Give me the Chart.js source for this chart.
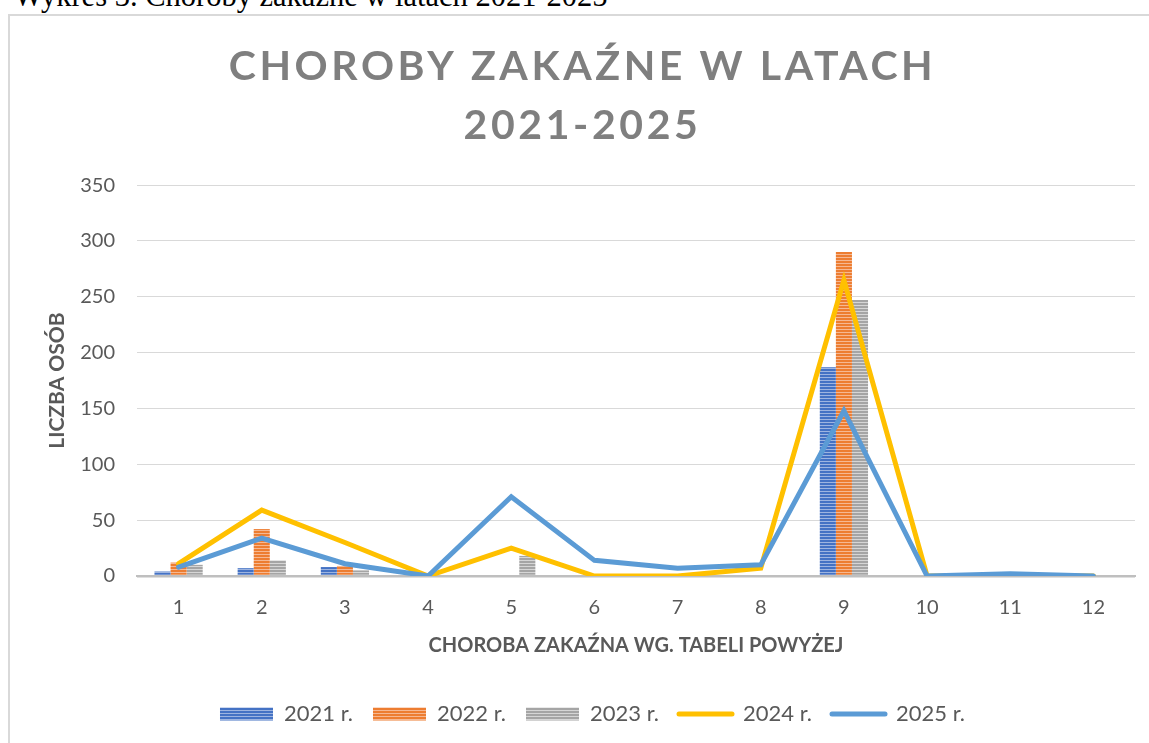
<!DOCTYPE html>
<html>
<head>
<meta charset="utf-8">
<script src="https://cdn.jsdelivr.net/npm/chart.js@4.4.1/dist/chart.umd.min.js"></script>
<style>
  html, body { margin: 0; padding: 0; background: #fff; overflow: hidden; }
  #caption {
    position: absolute; left: 14px; top: -19.5px;
    font-family: "Liberation Serif", "Times New Roman", serif;
    font-size: 30.5px; line-height: 30.5px; color: #000; white-space: nowrap;
  }
  #ramka {
    position: absolute; left: 8px; top: 14px; width: 1200px; height: 800px;
    border: 2px solid #d9d9d9;
  }
  #wrap { position: absolute; left: 0; top: 0; width: 1149px; height: 743px; }
</style>
</head>
<body>
<div id="caption">Wykres 3. Choroby zakaźne w latach 2021-2025</div>
<div id="ramka"></div>
<div id="wrap"><canvas id="wykres"></canvas></div>
<script>
// kategorie na osi X (numer choroby z tabeli)
const kategorie = ['1', '2', '3', '4', '5', '6', '7', '8', '9', '10', '11', '12'];

// wartości
const dane2021 = [4, 7, 8, 0, 0, 0, 0, 0, 187, 0, 0, 0];
const dane2022 = [12, 42, 9, 0, 0, 0, 0, 0, 290, 0, 0, 0];
const dane2023 = [10, 14, 5, 0, 18, 0, 0, 0, 247, 0, 0, 0];
const dane2024 = [11, 59, 30, 0, 25, 0, 0, 7, 265, 0, 0, 0];
const dane2025 = [8, 34, 11, 0, 71, 14, 7, 10, 148, 0, 2, 0];

const etykietySerii = ['2021 r.', '2022 r.', '2023 r.', '2024 r.', '2025 r.'];
const tytul = ['CHOROBY ZAKAŹNE W LATACH', '2021-2025'];

// paski poziome jak w Excelu
function paski(kolor, jasny) {
    const c = document.createElement('canvas');
    c.width = 4;
    c.height = 3;
    const g = c.getContext('2d');
    g.fillStyle = kolor;
    g.fillRect(0, 0, 4, 3);
    g.fillStyle = jasny;
    g.fillRect(0, 2, 4, 1);
    return g.createPattern(c, 'repeat');
}

const wzorNiebieski = paski('#4472c4', '#9db4e0');
const wzorPomarancz = paski('#ed7d31', '#f6b892');
const wzorSzary = paski('#a5a5a5', '#d6d6d6');

// tytuł z rozstrzelonymi literami
const rozstrzelTytul = {
    id: 'rozstrzelTytul',
    beforeDraw(chart) {
        const t = chart.titleBlock;
        if (t && !t._rozstrzelony) {
            const oryg = t.draw.bind(t);
            t.draw = function () {
                chart.ctx.save();
                chart.ctx.letterSpacing = '3.6px';
                oryg();
                chart.ctx.restore();
            };
            t._rozstrzelony = true;
        }
    }
};

// legenda troche w prawo, jak w oryginale
const przesunLegende = {
    id: 'przesunLegende',
    afterLayout(chart) {
        if (chart.legend) {
            chart.legend.left += 10;
            chart.legend.right += 10;
        }
    }
};

Chart.defaults.font.family = 'Lato';
Chart.defaults.color = '#595959';

new Chart(document.getElementById('wykres'), {
    data: {
        labels: kategorie,
        datasets: [
            { type: 'bar', label: etykietySerii[0], data: dane2021, backgroundColor: wzorNiebieski, order: 3 },
            { type: 'bar', label: etykietySerii[1], data: dane2022, backgroundColor: wzorPomarancz, order: 3 },
            { type: 'bar', label: etykietySerii[2], data: dane2023, backgroundColor: wzorSzary, order: 3 },
            { type: 'line', label: etykietySerii[3], data: dane2024, borderColor: '#ffc000', borderWidth: 5,
              pointRadius: 0, tension: 0, borderCapStyle: 'round', order: 2 },
            { type: 'line', label: etykietySerii[4], data: dane2025, borderColor: '#5b9bd5', borderWidth: 5,
              pointRadius: 0, tension: 0, borderCapStyle: 'round', order: 1 }
        ]
    },
    options: {
        responsive: true,
        maintainAspectRatio: false,
        animation: false,
        layout: { padding: { left: 30, right: 14, top: 0, bottom: 8 } },
        datasets: {
            bar: { categoryPercentage: 0.58, barPercentage: 1, borderWidth: 0 }
        },
        plugins: {
            tooltip: { enabled: false },
            title: {
                display: true,
                text: tytul,
                color: '#7f7f7f',
                font: { size: 41, weight: 'bold', lineHeight: 1.44 },
                padding: { top: 37, bottom: 30 }
            },
            legend: {
                position: 'bottom',
                labels: {
                    usePointStyle: true,
                    pointStyleWidth: 53,
                    boxHeight: 13,
                    padding: 20,
                    color: '#595959',
                    font: { size: 22 },
                    generateLabels(chart) {
                        return chart.data.datasets.map((ds, i) => {
                            const linia = ds.type === 'line';
                            return {
                                text: ds.label,
                                datasetIndex: i,
                                fillStyle: linia ? ds.borderColor : ds.backgroundColor,
                                strokeStyle: linia ? ds.borderColor : 'transparent',
                                lineWidth: linia ? 5 : 0,
                                lineCap: 'round',
                                pointStyle: linia ? 'line' : 'rect',
                                fontColor: '#595959',
                                hidden: false
                            };
                        });
                    }
                }
            }
        },
        scales: {
            x: {
                grid: { display: false, drawTicks: false },
                border: { display: true, color: '#bfbfbf', width: 2 },
                ticks: { padding: 20, font: { size: 20 }, color: '#595959' },
                title: {
                    display: true,
                    text: 'CHOROBA ZAKAŹNA WG. TABELI POWYŻEJ',
                    color: '#595959',
                    font: { size: 20, weight: 'bold' },
                    padding: { top: 8, bottom: 25 }
                },
                afterFit(scale) { scale.height = 107; }
            },
            y: {
                min: 0,
                max: 350,
                border: { display: false },
                grid: {
                    drawTicks: false,
                    color: c => c.tick && c.tick.value === 0 ? '#bfbfbf' : '#d9d9d9',
                    lineWidth: c => c.tick && c.tick.value === 0 ? 2.5 : 1
                },
                ticks: { stepSize: 50, padding: 22, font: { size: 20 }, color: '#595959' },
                title: {
                    display: true,
                    text: 'LICZBA OSÓB',
                    color: '#595959',
                    font: { size: 21, weight: 'bold' },
                    padding: { top: 14.4, bottom: 0 }
                },
                afterFit(scale) { scale.width = 107; }
            }
        }
    },
    plugins: [rozstrzelTytul, przesunLegende]
});
</script>
</body>
</html>
